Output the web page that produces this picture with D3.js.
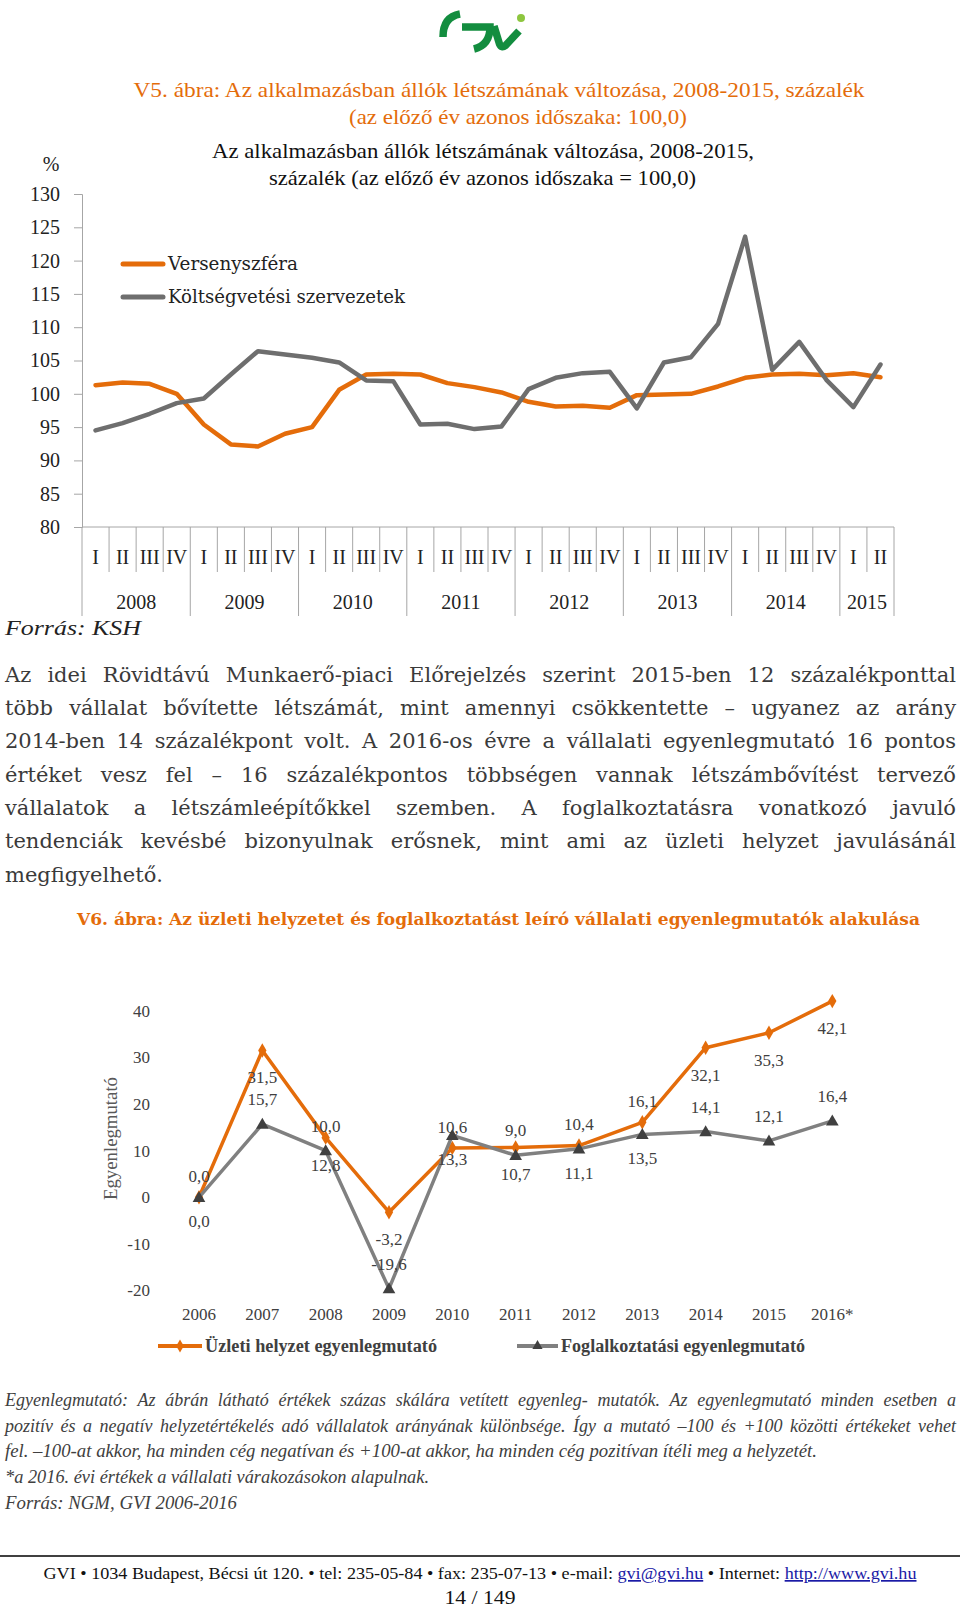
<!DOCTYPE html>
<html><head><meta charset="utf-8">
<script src="https://cdn.jsdelivr.net/npm/d3@7"></script>
<style>body{margin:0;background:#fff}svg{display:block}</style>
</head><body>
<svg id="page" width="960" height="1608"></svg>
<script>
// ---------- DATA ----------
const quarterLabels = ["I","II","III","IV","I","II","III","IV","I","II","III","IV","I","II","III","IV","I","II","III","IV","I","II","III","IV","I","II","III","IV","I","II"];
const yearLabels = ["2008","2009","2010","2011","2012","2013","2014","2015"];
const versenyszfera = [101.3,101.7,101.5,100.0,95.4,92.4,92.1,94.0,95.0,100.6,102.9,103.0,102.9,101.6,101.0,100.2,98.8,98.1,98.2,97.9,99.8,99.9,100.0,101.1,102.4,102.9,103.0,102.8,103.1,102.5];
const koltsegvetesi = [94.5,95.6,97.0,98.6,99.3,102.9,106.4,105.9,105.4,104.7,102.0,101.9,95.4,95.5,94.7,95.1,100.7,102.4,103.1,103.3,97.8,104.7,105.5,110.5,123.6,103.6,107.8,102.1,98.0,104.4];
const yTicks1 = [80,85,90,95,100,105,110,115,120,125,130];

const years2 = ["2006","2007","2008","2009","2010","2011","2012","2013","2014","2015","2016*"];
const uzleti = [0.0,31.5,12.8,-3.2,10.6,10.7,11.1,16.1,32.1,35.3,42.1];
const foglalkoztatasi = [0.0,15.7,10.0,-19.6,13.3,9.0,10.4,13.5,14.1,12.1,16.4];
const labelFlip = [true,false,false,false,true,false,false,true,false,false,false];
const yTicks2 = [-20,-10,0,10,20,30,40];

const paragraphLines = [
 "Az idei Rövidtávú Munkaerő-piaci Előrejelzés szerint 2015-ben 12 százalékponttal",
 "több vállalat bővítette létszámát, mint amennyi csökkentette – ugyanez az arány",
 "2014-ben 14 százalékpont volt.  A 2016-os évre a vállalati egyenlegmutató 16 pontos",
 "értéket vesz fel – 16 százalékpontos többségen vannak létszámbővítést tervező",
 "vállalatok a létszámleépítőkkel szemben. A foglalkoztatásra vonatkozó javuló",
 "tendenciák kevésbé bizonyulnak erősnek, mint ami az üzleti helyzet javulásánál",
 "megfigyelhető."
];
const noteLines = [
 "Egyenlegmutató: Az ábrán látható értékek százas skálára vetített egyenleg- mutatók. Az egyenlegmutató minden esetben a",
 "pozitív és a negatív helyzetértékelés adó vállalatok arányának különbsége. Így a mutató –100 és +100 közötti értékeket vehet",
 "fel. –100-at akkor, ha minden cég negatívan és +100-at akkor, ha minden cég pozitívan ítéli meg a helyzetét.",
 "*a 2016. évi értékek a vállalati várakozásokon alapulnak.",
 "Forrás: NGM, GVI 2006-2016"
];

// ---------- HELPERS ----------
const ORANGE = "#E46C0A", GRAY = "#6E6E6E", TXT = "#404040";
const svg = d3.select("#page");
svg.append("rect").attr("width",960).attr("height",1608).attr("fill","#fff");

function fitText(sel, w){
  sel.attr("textLength", w).attr("lengthAdjust","spacingAndGlyphs");
  return sel;
}
function justifyLine(g, text, x0, x1, y, font, size, color, style, justify){
  const words = text.split(/ +/);
  const W = x1 - x0;
  const nodes = words.map(w => g.append("text").attr("y", y)
     .attr("font-family", font).attr("font-size", size).attr("font-style", style||"normal")
     .attr("fill", color).text(w));
  const widths = nodes.map(n => n.node().getComputedTextLength());
  const sum = d3.sum(widths);
  const gaps = words.length - 1;
  const space = size*0.28;
  let gap = space, k = 1;
  if (justify && gaps > 0) {
    gap = (W - sum)/gaps;
    if (gap < size*0.2) { gap = size*0.2; k = (W - gaps*gap)/sum; }
  } else if (sum + gaps*space > W) {
    k = (W - gaps*space)/sum;
  }
  let x = x0;
  nodes.forEach((n,i) => {
    n.attr("x", x);
    if (k !== 1) fitText(n, widths[i]*k);
    x += widths[i]*k + gap;
  });
}

// ---------- LOGO ----------
const logo = svg.append("g").attr("fill","none").attr("stroke","#138d3f").attr("stroke-width",7.5).attr("stroke-linecap","butt");
logo.append("path").attr("d","M443,37 Q443,17 460,14");
logo.append("path").attr("d","M462,27 L490,27 Q490,45 474,49");
logo.append("path").attr("d","M494,26 L499.5,44 Q501.5,48.5 505.5,45.5 L519,31");
svg.append("circle").attr("cx",521).attr("cy",18).attr("r",4).attr("fill","#8dc63f");

// ---------- TITLES V5 ----------
fitText(svg.append("text").attr("x",499).attr("y",97).attr("text-anchor","middle")
  .attr("font-family","Liberation Serif").attr("font-size",21).attr("fill",ORANGE)
  .text("V5. ábra: Az alkalmazásban állók létszámának változása, 2008-2015, százalék"), 731);
fitText(svg.append("text").attr("x",518).attr("y",124).attr("text-anchor","middle")
  .attr("font-family","Liberation Serif").attr("font-size",21).attr("fill",ORANGE)
  .text("(az előző év azonos időszaka: 100,0)"), 338);
fitText(svg.append("text").attr("x",483).attr("y",158).attr("text-anchor","middle")
  .attr("font-family","Liberation Serif").attr("font-size",21).attr("fill","#111")
  .text("Az alkalmazásban állók létszámának változása, 2008-2015,"), 542);
fitText(svg.append("text").attr("x",482.5).attr("y",185).attr("text-anchor","middle")
  .attr("font-family","Liberation Serif").attr("font-size",21).attr("fill","#111")
  .text("százalék (az előző év azonos időszaka = 100,0)"), 427);

// ---------- CHART 1 ----------
const c1 = svg.append("g");
const x1 = d3.scaleBand().domain(d3.range(quarterLabels.length)).range([82, 894]);
const y1 = d3.scaleLinear().domain([80,130]).range([527,194]);
const AX = "#a6a6a6";

c1.append("text").attr("x",51).attr("y",171).attr("text-anchor","middle")
  .attr("font-family","Liberation Serif").attr("font-size",20).attr("fill","#222").text("%");

const yAxis1 = d3.axisLeft(y1).tickValues(yTicks1).tickSize(8).tickPadding(14).tickFormat(d3.format("d"));
const ya = c1.append("g").attr("transform","translate(82,0)").call(yAxis1);
ya.select(".domain").attr("stroke",AX);
ya.selectAll(".tick line").attr("stroke",AX);
ya.selectAll(".tick text").attr("font-family","Liberation Serif").attr("font-size",20).attr("fill","#222");

c1.append("line").attr("x1",82).attr("x2",894).attr("y1",y1(80)).attr("y2",y1(80)).attr("stroke",AX);
d3.range(quarterLabels.length+1).forEach(i => {
  const xx = i < quarterLabels.length ? x1(i) : x1.range()[1];
  const isYear = (i % 4 === 0) || i === quarterLabels.length;
  c1.append("line").attr("x1",xx).attr("x2",xx).attr("y1",527).attr("y2", isYear ? 616 : 572)
    .attr("stroke",AX).attr("stroke-width",1);
});
c1.selectAll("text.q").data(quarterLabels).join("text").attr("class","q")
  .attr("x",(d,i)=>x1(i)+x1.bandwidth()/2).attr("y",564).attr("text-anchor","middle")
  .attr("font-family","Liberation Serif").attr("font-size",20).attr("fill","#222").text(d=>d);
c1.selectAll("text.yr").data(yearLabels).join("text").attr("class","yr")
  .attr("x",(d,i)=>{const a=x1(i*4); const b=(i*4+4<=quarterLabels.length-1)?x1(i*4+4):x1.range()[1]; return (a+b)/2;})
  .attr("y",609).attr("text-anchor","middle")
  .attr("font-family","Liberation Serif").attr("font-size",20).attr("fill","#222").text(d=>d);

const line1 = d3.line().x((d,i)=>x1(i)+x1.bandwidth()/2).y(d=>y1(d));
c1.append("path").datum(versenyszfera).attr("d",line1).attr("fill","none")
  .attr("stroke",ORANGE).attr("stroke-width",4.5).attr("stroke-linejoin","round").attr("stroke-linecap","round");
c1.append("path").datum(koltsegvetesi).attr("d",line1).attr("fill","none")
  .attr("stroke",GRAY).attr("stroke-width",4.5).attr("stroke-linejoin","round").attr("stroke-linecap","round");

[[ORANGE,"Versenyszféra",264,130],[GRAY,"Költségvetési szervezetek",297,237]].forEach(([c,t,y,w])=>{
  c1.append("line").attr("x1",123).attr("x2",163).attr("y1",y).attr("y2",y)
    .attr("stroke",c).attr("stroke-width",5).attr("stroke-linecap","round");
  fitText(c1.append("text").attr("x",168).attr("y",y+6).attr("font-family","DejaVu Serif")
    .attr("font-size",18).attr("fill","#222").text(t), w);
});

fitText(svg.append("text").attr("x",5).attr("y",635).attr("font-family","Liberation Serif")
  .attr("font-style","italic").attr("font-size",20).attr("fill","#222").text("Forrás: KSH"), 136);

// ---------- PARAGRAPH ----------
const para = svg.append("g");
paragraphLines.forEach((t,i)=>{
  justifyLine(para, t, 5, 956, 681.7 + 33.3*i, "DejaVu Serif", 21, "#3a3a3a", "normal", i < paragraphLines.length-1);
});

// ---------- TITLE V6 ----------
svg.append("text").attr("x",498.5).attr("y",925).attr("text-anchor","middle")
  .attr("font-family","DejaVu Serif").attr("font-weight","bold").attr("font-size",17).attr("fill",ORANGE)
  .text("V6. ábra: Az üzleti helyzetet és foglalkoztatást leíró vállalati egyenlegmutatók alakulása")
  .call(s => { const w = s.node().getComputedTextLength(); if (Math.abs(w-843) > 1) fitText(s, 843); });

// ---------- CHART 2 ----------
const c2 = svg.append("g");
const x2 = d3.scalePoint().domain(years2).range([199, 832.3]);
const y2 = d3.scaleLinear().domain([-20,40]).range([1290.5,1010.9]);

c2.selectAll("text.yt").data(yTicks2).join("text").attr("class","yt")
  .attr("x",150).attr("y",d=>y2(d)).attr("dy","0.35em").attr("text-anchor","end")
  .attr("font-family","Liberation Serif").attr("font-size",17).attr("fill",TXT).text(d=>d);
c2.selectAll("text.xt").data(years2).join("text").attr("class","xt")
  .attr("x",d=>x2(d)).attr("y",1320).attr("text-anchor","middle")
  .attr("font-family","Liberation Serif").attr("font-size",17).attr("fill",TXT).text(d=>d);
fitText(c2.append("text").attr("transform","translate(117,1138.5) rotate(-90)").attr("text-anchor","middle")
  .attr("font-family","Liberation Serif").attr("font-size",18).attr("fill","#595959").text("Egyenlegmutató"), 123);

const line2 = d3.line().x((d,i)=>x2(years2[i])).y(d=>y2(d));
c2.append("path").datum(uzleti).attr("d",line2).attr("fill","none").attr("stroke",ORANGE)
  .attr("stroke-width",3.5).attr("stroke-linejoin","round");
c2.selectAll("path.dm").data(uzleti).join("path").attr("class","dm")
  .attr("transform",(d,i)=>`translate(${x2(years2[i])},${y2(d)})`)
  .attr("d", d3.symbol(d3.symbolDiamond, 60)).attr("fill",ORANGE);
c2.append("path").datum(foglalkoztatasi).attr("d",line2).attr("fill","none").attr("stroke","#808080")
  .attr("stroke-width",3.5).attr("stroke-linejoin","round");
c2.selectAll("path.tr").data(foglalkoztatasi).join("path").attr("class","tr")
  .attr("transform",(d,i)=>`translate(${x2(years2[i])},${y2(d)+1})`)
  .attr("d", d3.symbol(d3.symbolTriangle, 70)).attr("fill","#404040");

const fmt = v => d3.format(".1f")(v).replace(".",",").replace("\u2212","-");
c2.selectAll("text.ul").data(uzleti).join("text").attr("class","ul")
  .attr("x",(d,i)=>x2(years2[i])).attr("y",(d,i)=>y2(d) + (labelFlip[i] ? -21 : 27))
  .attr("dy","0.35em").attr("text-anchor","middle")
  .attr("font-family","Liberation Serif").attr("font-size",17).attr("fill",TXT).text(fmt);
c2.selectAll("text.fl").data(foglalkoztatasi).join("text").attr("class","fl")
  .attr("x",(d,i)=>x2(years2[i])).attr("y",(d,i)=>y2(d) + (labelFlip[i] ? 24 : -25))
  .attr("dy","0.35em").attr("text-anchor","middle")
  .attr("font-family","Liberation Serif").attr("font-size",17).attr("fill",TXT).text(fmt);

[[ORANGE,d3.symbolDiamond,"Üzleti helyzet egyenlegmutató",158,202,205,232,50],
 ["#808080",d3.symbolTriangle,"Foglalkoztatási egyenlegmutató",517,558,561,244,45]].forEach(([c,sym,t,a,b,tx,w,ms],k)=>{
  c2.append("line").attr("x1",a).attr("x2",b).attr("y1",1346).attr("y2",1346).attr("stroke",c).attr("stroke-width",4);
  c2.append("path").attr("transform",`translate(${(a+b)/2},1346)`).attr("d",d3.symbol(sym,ms))
    .attr("fill", k===0 ? ORANGE : "#404040");
  fitText(c2.append("text").attr("x",tx).attr("y",1352).attr("font-family","Liberation Serif")
    .attr("font-weight","bold").attr("font-size",18).attr("fill",TXT).text(t), w);
});

// ---------- NOTES ----------
const notes = svg.append("g");
const noteWidths = [null, null, 812, 424, 232];
noteLines.forEach((t,i)=>{
  const y = 1406 + 25.7*i;
  if (i < 2) justifyLine(notes, t, 5, 956, y, "Liberation Serif", 18, TXT, "italic", true);
  else fitText(notes.append("text").attr("x",5).attr("y",y).attr("font-family","Liberation Serif")
    .attr("font-style","italic").attr("font-size",18).attr("fill",TXT).text(t), noteWidths[i]);
});

// ---------- FOOTER ----------
svg.append("line").attr("x1",0).attr("x2",960).attr("y1",1556).attr("y2",1556).attr("stroke","#404040").attr("stroke-width",2);
const ft = svg.append("text").attr("x",480).attr("y",1579).attr("text-anchor","middle")
  .attr("font-family","Liberation Serif").attr("font-size",17).attr("fill","#111");
ft.append("tspan").text("GVI • 1034 Budapest, Bécsi út 120. • tel: 235-05-84 • fax: 235-07-13 • e-mail: ");
ft.append("tspan").attr("fill","#1a1aa6").attr("text-decoration","underline").text("gvi@gvi.hu");
ft.append("tspan").text(" • Internet: ");
ft.append("tspan").attr("fill","#1a1aa6").attr("text-decoration","underline").text("http://www.gvi.hu");
fitText(ft, 873);
fitText(svg.append("text").attr("x",480).attr("y",1604).attr("text-anchor","middle")
  .attr("font-family","Liberation Serif").attr("font-size",19).attr("fill","#111").text("14 / 149"), 71);
</script>
</body></html>
